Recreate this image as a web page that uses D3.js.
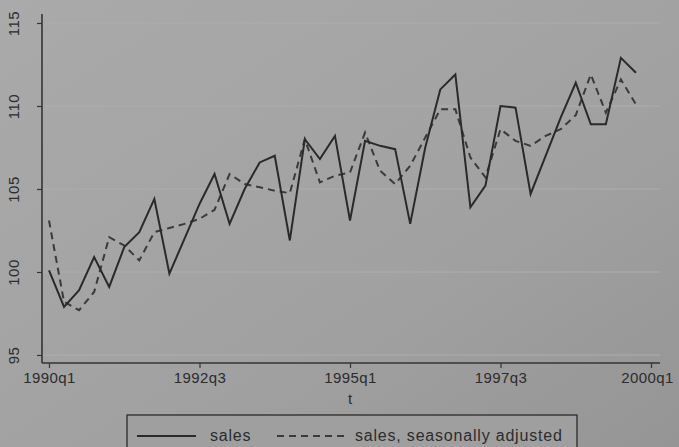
<!DOCTYPE html>
<html><head><meta charset="utf-8">
<script src="https://cdn.jsdelivr.net/npm/d3@7"></script>
<style>
html,body{margin:0;padding:0;background:#a2a2a2;}
svg{display:block;}
text{font-family:"Liberation Sans",Arial,Helvetica,sans-serif;fill:#2c2c2c;}
</style></head>
<body><svg id="c" width="679" height="447"></svg>
<script>
// quarter index t: 0 = 1990q1 ... 39 = 1999q4
const quarterIndex = d3.range(40);
const sales = [100.1, 97.9, 98.9, 100.9, 99.1, 101.5, 102.4, 104.4, 99.9, 102.0,
               104.1, 105.9, 102.9, 105.0, 106.6, 107.0, 101.9, 108.0, 106.8, 108.2,
               103.1, 107.9, 107.6, 107.4, 102.9, 107.5, 111.0, 111.9, 103.9, 105.2,
               110.0, 109.9, 104.7, 107.0, 109.3, 111.4, 108.9, 108.9, 112.9, 112.0];
const salesAdj = [103.1, 98.2, 97.7, 98.8, 102.1, 101.6, 100.7, 102.4, 102.65, 102.9,
                  103.2, 103.75, 105.9, 105.3, 105.1, 104.9, 104.75, 108.0, 105.4, 105.8,
                  106.0, 108.4, 106.1, 105.3, 106.4, 108.1, 109.8, 109.8, 106.9, 105.7,
                  108.6, 107.9, 107.6, 108.2, 108.6, 109.45, 111.9, 109.6, 111.6, 110.1];
const xTickPos = [0, 10, 20, 30, 40];
const xTickLabels = ["1990q1", "1992q3", "1995q1", "1997q3", "2000q1"];
const yTicks = [95, 100, 105, 110, 115];
const seriesNames = ["sales", "sales, seasonally adjusted"];

const svg = d3.select("#c");
const W = 679, H = 447;

const defs = svg.append("defs");
const g = defs.append("linearGradient").attr("id","bg").attr("x1","0").attr("y1","0").attr("x2","1").attr("y2","1");
g.append("stop").attr("offset","0%").attr("stop-color","#aaaaaa");
g.append("stop").attr("offset","60%").attr("stop-color","#a1a1a1");
g.append("stop").attr("offset","100%").attr("stop-color","#959595");
svg.append("rect").attr("width",W).attr("height",H).attr("fill","url(#bg)");

const x = d3.scaleLinear().domain([0, 40]).range([49, 651]);
const y = d3.scaleLinear().domain([95, 115]).range([355, 23]);
const axisX0 = 42, axisY0 = 363;

// gridlines
svg.append("g").selectAll("line").data(yTicks).join("line")
  .attr("x1", axisX0).attr("x2", 660)
  .attr("y1", d => y(d)).attr("y2", d => y(d))
  .attr("stroke", "#adadad").attr("stroke-width", 1);

// y axis
const yAxis = svg.append("g").attr("transform", `translate(${axisX0},0)`)
  .call(d3.axisLeft(y).tickValues(yTicks).tickSize(5).tickSizeOuter(0).tickFormat(d3.format("d")));
yAxis.select(".domain").attr("d", `M0,14V${axisY0}`).attr("stroke","#353535").attr("stroke-width",1.6);
yAxis.selectAll(".tick line").attr("stroke","#353535").attr("stroke-width",1.2);
yAxis.selectAll(".tick text")
  .attr("x", 0).attr("dy", 0)
  .attr("transform", "translate(-23,0) rotate(-90)")
  .attr("text-anchor", "middle")
  .attr("font-size", 15).attr("letter-spacing", 0.5).attr("fill","#2c2c2c");

// x axis
const xAxis = svg.append("g").attr("transform", `translate(0,${axisY0})`)
  .call(d3.axisBottom(x).tickValues(xTickPos).tickSize(5).tickSizeOuter(0)
    .tickFormat((d, i) => xTickLabels[i]));
xAxis.select(".domain").attr("d", `M${axisX0},0H660`).attr("stroke","#353535").attr("stroke-width",1.6);
xAxis.selectAll(".tick line").attr("stroke","#353535").attr("stroke-width",1.2);
xAxis.selectAll(".tick text").attr("y", 9).attr("font-size", 15).attr("letter-spacing", 0.4).attr("fill","#2c2c2c");
xAxis.selectAll(".tick text").filter((d, i) => i === xTickPos.length - 1).attr("dx", -4);

svg.append("text").attr("x", x(20)).attr("y", 404).attr("text-anchor","middle")
  .attr("font-size", 15).text("t");

// lines
const line = d3.line().x((d, i) => x(quarterIndex[i])).y(d => y(d));
svg.append("path").datum(salesAdj).attr("d", line).attr("fill","none")
  .attr("stroke","#3a3a3a").attr("stroke-width",2).attr("stroke-dasharray","7,5");
svg.append("path").datum(sales).attr("d", line).attr("fill","none")
  .attr("stroke","#2a2a2a").attr("stroke-width",2).attr("stroke-linejoin","miter");

// legend
const lg = svg.append("g");
lg.append("rect").attr("x",127).attr("y",415).attr("width",450).attr("height",44)
  .attr("fill","#9f9f9f").attr("stroke","#333").attr("stroke-width",1.4);
lg.append("line").attr("x1",137).attr("x2",196).attr("y1",436).attr("y2",436)
  .attr("stroke","#2a2a2a").attr("stroke-width",2);
lg.append("text").attr("x",210).attr("y",441).attr("font-size",16).attr("letter-spacing",0.8).text(seriesNames[0]);
lg.append("line").attr("x1",277).attr("x2",345).attr("y1",436).attr("y2",436)
  .attr("stroke","#3a3a3a").attr("stroke-width",2).attr("stroke-dasharray","7,5");
lg.append("text").attr("x",355).attr("y",441).attr("font-size",16).attr("letter-spacing",0.8).text(seriesNames[1]);
</script></body></html>
